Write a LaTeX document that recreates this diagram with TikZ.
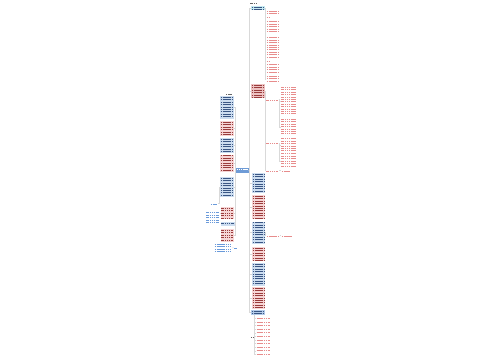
\documentclass[tikz,border=0pt]{standalone}
\usetikzlibrary{fit}
\definecolor{bfill}{HTML}{CCDDF0}
\definecolor{btext}{HTML}{3A5684}
\definecolor{rfill}{HTML}{F6D5D5}
\definecolor{rtext}{HTML}{9A3C3C}
\definecolor{rlight}{HTML}{E78C8C}
\definecolor{blight}{HTML}{6A9ADA}
\definecolor{cyanfill}{HTML}{C4EAF2}
\definecolor{cfill}{HTML}{6E9BD6}
\definecolor{dfill}{HTML}{B3CBEA}
\definecolor{bdark}{HTML}{EDC2C2}
\definecolor{conn}{HTML}{D9D9D9}
\definecolor{gtext}{HTML}{666666}
\tikzset{
  plain/.style={inner sep=0pt, outer sep=0pt, draw=none},
  bbox/.style={plain, fill=bfill},
  rbox/.style={plain, fill=rfill},
  txt/.style={line width=0.02cm, dash pattern=on 0.75pt off 0.3pt},
  link/.style={draw=conn, line width=0.25pt},
}
\newcommand\txlines[5]{%
  \pgfmathtruncatemacro\nlines{max(0,((#4)-(#2)-1.2)/2.4)}%
  \foreach \i in {0,...,\nlines}{\draw[txt,#5] (#1,{#2+1.2+\i*2.4}) -- (#3,{#2+1.2+\i*2.4});}%
}
\newcommand\blk[7]{%
  \node[#6, fit={(#2,#3) (#4,#5)}] (#1) {};%
  \txlines{#2+0.8}{#3+0.2}{#4-0.8}{#5}{#7}%
}
\begin{document}
\begin{tikzpicture}[x=0.02cm,y=-0.02cm]
\fill[white] (0,0) rectangle (500,360);
\useasboundingbox (0,0) rectangle (500,360);

% ---- root (top) ----
\blk{rtop}{249.5}{1.6}{257.5}{3.2}{plain}{gtext}
\blk{root}{251}{5.8}{264.5}{9.8}{plain,fill=cyanfill}{btext}

% ---- first group: red text under root ----
\blk{a1}{266}{10}{279.5}{14.5}{plain}{rlight}
\blk{a2}{266}{16}{270.5}{17.6}{plain}{rlight}
\blk{a3}{266}{20.5}{279.5}{33.5}{plain}{rlight}
\blk{a4}{266}{36.5}{279.5}{52.5}{plain}{rlight}
\blk{a5}{266}{53.5}{279.5}{58.5}{plain}{rlight}
\blk{a6}{266}{60}{270.5}{61.6}{plain}{rlight}
\blk{a7}{266}{63.5}{279.5}{73.5}{plain}{rlight}
\blk{a8}{266}{75}{279.5}{83.5}{plain}{rlight}

% ---- red box B and its children ----
\blk{B}{251}{84}{264.5}{97.5}{plain,fill=bdark}{rtext}
\blk{l1}{265.5}{98.8}{278.5}{100.4}{plain}{rlight}
\blk{l2}{265.5}{142.3}{278.5}{143.9}{plain}{rlight}
\blk{l3}{265.5}{169.6}{279}{171.2}{plain}{rlight}
\blk{l3b}{281}{169.6}{290}{171.2}{plain}{rlight}
\blk{c1}{280.5}{86}{296.5}{116}{plain}{rlight}
\blk{c2}{280.5}{118}{296.5}{135.5}{plain}{rlight}
\blk{c3}{280.5}{137.5}{296.5}{153.5}{plain}{rlight}
\blk{c4}{280.5}{155}{296.5}{167.5}{plain}{rlight}

% ---- centre ----
\node[plain, fill=cfill, fit={(236,168)(248.5,172.6)}] (center) {};
\txlines{237}{168.7}{247.5}{170.5}{white}

% ---- left column ----
\blk{ltop}{225}{92.8}{233}{94.4}{plain}{gtext}
\blk{lb1}{220}{96}{234}{118.5}{bbox}{btext}
\blk{lr1}{220}{121}{234}{136}{rbox}{rtext}
\blk{lb2}{220}{138}{234}{152.5}{bbox}{btext}
\blk{lr2}{220}{154.5}{234}{171.5}{rbox}{rtext}
\blk{lb3}{220}{177}{234}{196.5}{bbox}{btext}
\blk{ld}{210}{202.8}{218}{204.4}{plain}{blight}
\blk{lr3}{220.5}{207}{233.5}{219}{rbox}{rtext}
\blk{bt1}{205.5}{211.5}{219.5}{224}{plain}{blight}
\blk{lb4}{220.5}{222}{234.5}{225.5}{bbox}{btext}
\blk{lr4}{220.5}{229}{233.5}{241.5}{rbox}{rtext}
\blk{bt2}{214}{243}{232}{253}{plain}{blight}
\blk{ll}{233.5}{246.8}{238.5}{248.4}{plain}{blight}

% ---- right column ----
\blk{rb1}{252}{173}{265}{193}{bbox}{btext}
\blk{rr1}{252}{195}{265}{218.5}{rbox}{rtext}
\blk{rb2}{252}{221.5}{265}{243.5}{bbox}{btext}
\blk{m1}{266}{234.8}{279.5}{236.4}{plain}{rlight}
\blk{m2}{281}{234.8}{292.5}{236.4}{plain}{rlight}
\blk{rr2}{252}{247}{265}{261}{rbox}{rtext}
\blk{rb3}{252}{263}{265}{285.5}{bbox}{btext}
\blk{rr3}{252}{287}{265}{308.5}{rbox}{rtext}
\blk{rb4}{251}{310}{265}{315}{plain,fill=dfill}{btext}
\blk{bl}{250}{336.2}{254.5}{337.8}{plain}{gtext}
\foreach \k in {0,...,10}{%
  \node[plain, fit={(256,{317.6+\k*3.6}) (270,{319.2+\k*3.6})}] (e\k) {};
  \draw[txt,rlight] (256.5,{318.4+\k*3.6}) -- (269.5,{318.4+\k*3.6});
}

% ---- connectors ----
\foreach \n in {root,B,rb1,rr1,rb2,rr2,rb3,rr3,rb4}
  \draw[link] (center.east) -- ++(0.9,0) |- (\n.west);
\foreach \n in {lb1,lr1,lb2,lr2,lb3,lr3,lb4,lr4}
  \draw[link] (center.west) -- ++(-0.6,0) |- (\n.east);
\foreach \n in {a1,a2,a3,a4,a5,a6,a7,a8}
  \draw[link] (root.east) -- ++(0.6,0) |- (\n.west);
\foreach \n in {l1,l2,l3}
  \draw[link] (B.east) -- ++(0.5,0) |- (\n.west);
\foreach \n in {c1,c2}
  \draw[link] (l1.east) -- ++(1,0) |- (\n.west);
\foreach \n in {c3,c4}
  \draw[link] (l2.east) -- ++(1,0) |- (\n.west);
\draw[link] (l3.east) -- (l3b.west);
\draw[link] (rb2.east) -- ++(0.4,0) |- (m1.west);
\draw[link] (m1.east) -- (m2.west);
\draw[link] (lb3.west) -- ++(-0.6,0) |- (ld.east);
\draw[link] (lr3.west) -- (bt1.east |- lr3.west);
\draw[link] (bt2.east) -- (ll.west);
\foreach \k in {0,...,10}
  \draw[link] (rb4.south west) ++(3.5,0) |- (e\k.west);
\draw[link] (bl.east) -- (e5.west);
\end{tikzpicture}
\end{document}
